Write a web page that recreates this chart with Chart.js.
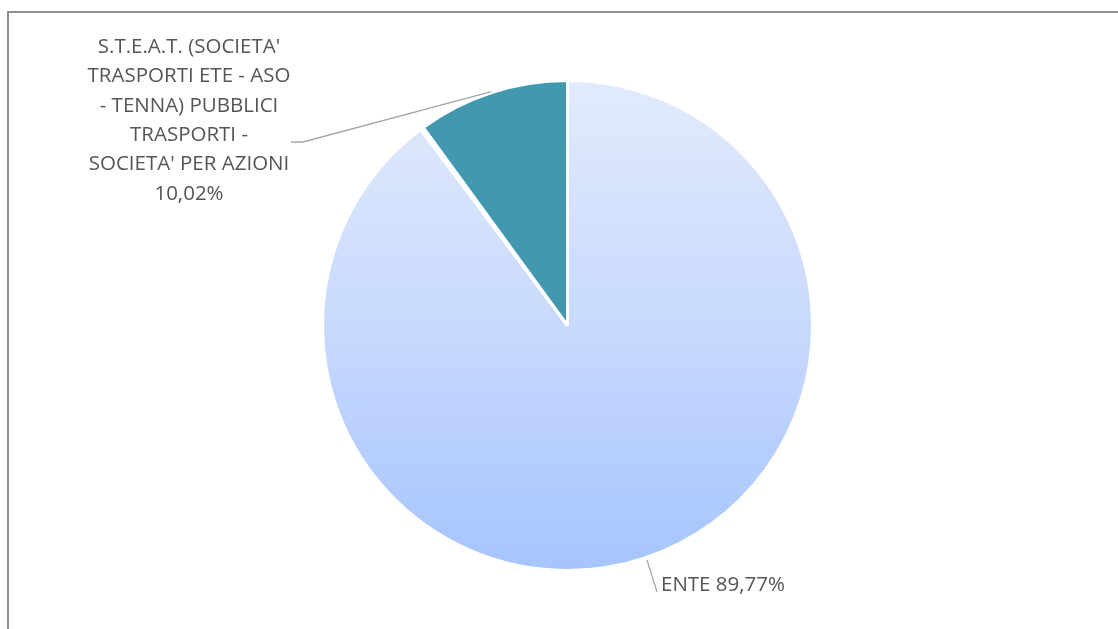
<!DOCTYPE html>
<html>
<head>
<meta charset="utf-8">
<script src="https://cdn.jsdelivr.net/npm/chart.js@4.4.1/dist/chart.umd.min.js"></script>
<style>
  html, body { margin:0; padding:0; background:#fff; overflow:hidden; }
  #wrap { position:absolute; left:0; top:0; width:1118px; height:629px; }
  #frame { position:absolute; left:7px; top:11px; width:1200px; height:700px;
           border-left:2px solid #8f8f8f; border-top:2px solid #8f8f8f; }
  canvas { position:absolute; left:0; top:0; }
</style>
</head>
<body>
<div id="wrap">
  <div id="frame"></div>
  <canvas id="chart" width="1118" height="629"></canvas>
</div>
<script>
// data
const labels = ["ENTE", "ALTRI", "S.T.E.A.T. (SOCIETA' TRASPORTI ETE - ASO - TENNA) PUBBLICI TRASPORTI - SOCIETA' PER AZIONI"];
const values = [89.77, 0.21, 10.02];
const pctText = ["89,77%", "", "10,02%"];

// wrapped lines for the big label
const steatLines = ["S.T.E.A.T. (SOCIETA'", "TRASPORTI ETE - ASO", "- TENNA) PUBBLICI", "TRASPORTI -", "SOCIETA' PER AZIONI", "10,02%"];

const FONT = "20.5px 'Open Sans', sans-serif";
const TXT = "#555555";
const LINE = "#a6a6a6";

function sliceFill(ctx){
  if(ctx.dataIndex === 1) return "#ffffff";
  if(ctx.dataIndex === 2) return "#4298af";
  const area = ctx.chart.chartArea;
  if(!area) return "#c9dafd";
  let g = ctx.chart.ctx.createLinearGradient(0, area.top, 0, area.bottom);
  g.addColorStop(0, "#e2ebfc");
  g.addColorStop(0.5, "#c8d9fd");
  g.addColorStop(1, "#a5c4fe");
  return g;
}

// leader lines + labels
const labelPlugin = {
  id: "pieLabels",
  afterDatasetsDraw(chart){
    const c = chart.ctx;
    const arcs = chart.getDatasetMeta(0).data;
    c.save();
    c.font = FONT;
    c.fillStyle = TXT;
    c.strokeStyle = LINE;
    c.lineWidth = 1.3;

    // STEAT (index 2)
    let a = arcs[2];
    let mid = (a.startAngle + a.endAngle)/2;
    let ax = a.x + Math.cos(mid)*(a.outerRadius+1);
    let ay = a.y + Math.sin(mid)*(a.outerRadius+1);
    c.beginPath();
    c.moveTo(ax, ay);
    c.lineTo(303, 142);
    c.lineTo(291, 142);
    c.stroke();
    c.textAlign = "center";
    c.textBaseline = "middle";
    steatLines.forEach((l,i)=>{
      c.fillText(l, 189, 47 + i*29.4);
    });

    // ENTE (index 0)
    c.beginPath();
    c.moveTo(647, 560);
    c.lineTo(657, 592);
    c.stroke();
    c.textAlign = "left";
    c.fillText(labels[0] + " " + pctText[0], 661, 585);
    c.restore();
  }
};

new Chart(document.getElementById("chart"), {
  type: "pie",
  data: {
    labels: labels,
    datasets: [{
      data: values,
      backgroundColor: sliceFill,
      borderColor: "#ffffff",
      borderWidth: 3
    }]
  },
  options: {
    responsive: false,
    animation: false,
    layout: { padding: { left: 320, right: 303, top: 79, bottom: 57 } },
    plugins: {
      legend: { display: false },
      tooltip: { enabled: false }
    }
  },
  plugins: [labelPlugin]
});
</script>
</body>
</html>
